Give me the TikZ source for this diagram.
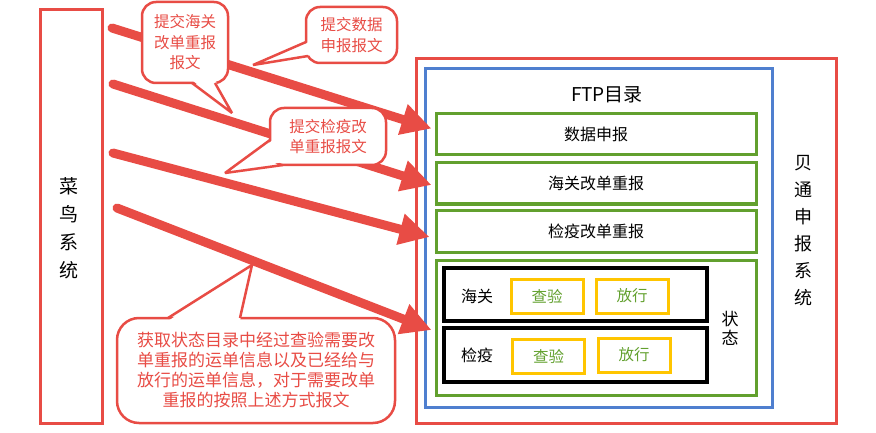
\documentclass[tikz,border=0pt]{standalone}
\usepackage{fontspec}
\newfontfamily\cjk{Noto Sans CJK SC}
\usetikzlibrary{arrows.meta}

\definecolor{cnred}{RGB}{232,76,69}
\definecolor{ftpblue}{RGB}{79,127,207}
\definecolor{dirgreen}{RGB}{98,160,46}
\definecolor{chkyellow}{RGB}{255,197,0}

\begin{document}
\begin{tikzpicture}[x=1pt, y=-1pt, font=\cjk,
		boxline/.style={draw, line width=3pt, inner sep=0pt},
		dirbox/.style={boxline, draw=dirgreen, minimum width=320pt, minimum height=41pt, font=\cjk\fontsize{16}{18}\selectfont},
		rowbox/.style={boxline, draw=black, line width=3.5pt, minimum width=263pt, minimum height=53pt},
		chkbox/.style={boxline, draw=chkyellow, minimum width=72pt, minimum height=34pt, text=dirgreen, font=\cjk\fontsize{15.5}{18}\selectfont},
		vlabel/.style={align=center, inner sep=0pt},
		flow/.style={draw=cnred, line width=9pt, line cap=round, -{Triangle[length=30pt, width=30pt]}},
		note/.style={draw=cnred, line width=2.5pt, fill=white, rounded corners=14pt, text=cnred, align=center, inner sep=0pt, font=\cjk\fontsize{15.5}{20.5}\selectfont},
		ptr/.style={draw=cnred, line width=2.5pt, miter limit=4}
	]
		\useasboundingbox (0,0) rectangle (876,433);

		% systems
		\node[boxline, draw=cnred, minimum width=62pt, minimum height=413pt] (cainiao) at (71,216.5) {};
		\node[vlabel, font=\cjk\fontsize{19}{28}\selectfont] (cainiaolbl) at (69,228) {菜\\鸟\\系\\统};
		\node[boxline, draw=cnred, minimum width=420pt, minimum height=364pt] (beitong) at (626,241) {};
		\node[vlabel, font=\cjk\fontsize{18}{27}\selectfont] (beitonglbl) at (803,231) {贝\\通\\申\\报\\系\\统};

		% ftp directory
		\node[boxline, draw=ftpblue, minimum width=347pt, minimum height=338pt] (ftp) at (598.5,238) {};
		\node[font=\cjk\fontsize{19}{22}\selectfont] (ftplbl) at (607,95) {FTP目录};
		\node[dirbox] (dat) at (596,134.5) {数据申报};
		\node[dirbox] (hgre) at (596,183.5) {海关改单重报};
		\node[dirbox, minimum height=42pt] (jyre) at (596,231) {检疫改单重报};
		\node[dirbox, minimum height=135pt] (state) at (596,327.5) {};
		\node[vlabel, font=\cjk\fontsize{17}{19}\selectfont] (statelbl) at (730,328) {状\\态};

		\node[rowbox] (hgrow) at (575.5,294.5) {};
		\node[font=\cjk\fontsize{16}{18}\selectfont] (hglbl) at (477,296) {海关};
		\node[chkbox] (hgchk) at (547,296) {查验};
		\node[chkbox] (hgrel) at (632,296) {放行};
		\node[rowbox, minimum height=54pt] (jyrow) at (575.5,355) {};
		\node[font=\cjk\fontsize{16}{18}\selectfont] (jylbl) at (477,355) {检疫};
		\node[chkbox] (jychk) at (548.5,356) {查验};
		\node[chkbox] (jyrel) at (634,355) {放行};

		% uploads
		\coordinate (s1) at (112,28);
		\coordinate (s2) at (113,84);
		\coordinate (s3) at (113,153);
		\coordinate (s4) at (117,208);
		\draw[flow] (s1) -- ([xshift=-3pt, yshift=6pt]dat.west);
		\draw[flow] (s2) -- ([xshift=-3pt, yshift=-1.5pt]hgre.west);
		\draw[flow] (s3) -- ([xshift=-5pt, yshift=-6pt]jyre.west);

		% notes
		\node[note, minimum width=86pt, minimum height=81pt] (note1) at (185,42.5) {提交海关\\改单重报\\报文};
		\fill[white] (192,80) -- (232,113) -- (215,80) -- cycle;
		\draw[ptr] (192,83) -- (232,113) -- (215,83);

		\node[note, minimum width=91pt, minimum height=56pt] (note2) at (351.5,35) {提交数据\\申报报文};
		\fill[white] (309,42) -- (253,65) -- (311,55) -- cycle;
		\draw[ptr] (306,42) -- (253,65) -- (308,56);

		\node[note, minimum width=116pt, minimum height=57pt] (note3) at (328,136.5) {提交检疫改\\单重报报文};
		\fill[white] (273,140) -- (225,173) -- (283,162) -- cycle;
		\draw[ptr] (270,140) -- (225,173) -- (283,165);

		\draw[flow] (s4) -- ([xshift=-3pt, yshift=-2.5pt]state.west);

		\node[note, rounded corners=22pt, minimum width=278pt, minimum height=105pt, font=\cjk\fontsize{17}{20}\selectfont] (note4) at (256,370.5)
			{获取状态目录中经过查验需要改\\单重报的运单信息以及已经给与\\放行的运单信息，对于需要改单\\重报的按照上述方式报文};
		\fill[white] (168,321) -- (252,265) -- (240,321) -- cycle;
		\draw[ptr] (168,318) -- (252,265) -- (240,318);
	\end{tikzpicture}
\end{document}
